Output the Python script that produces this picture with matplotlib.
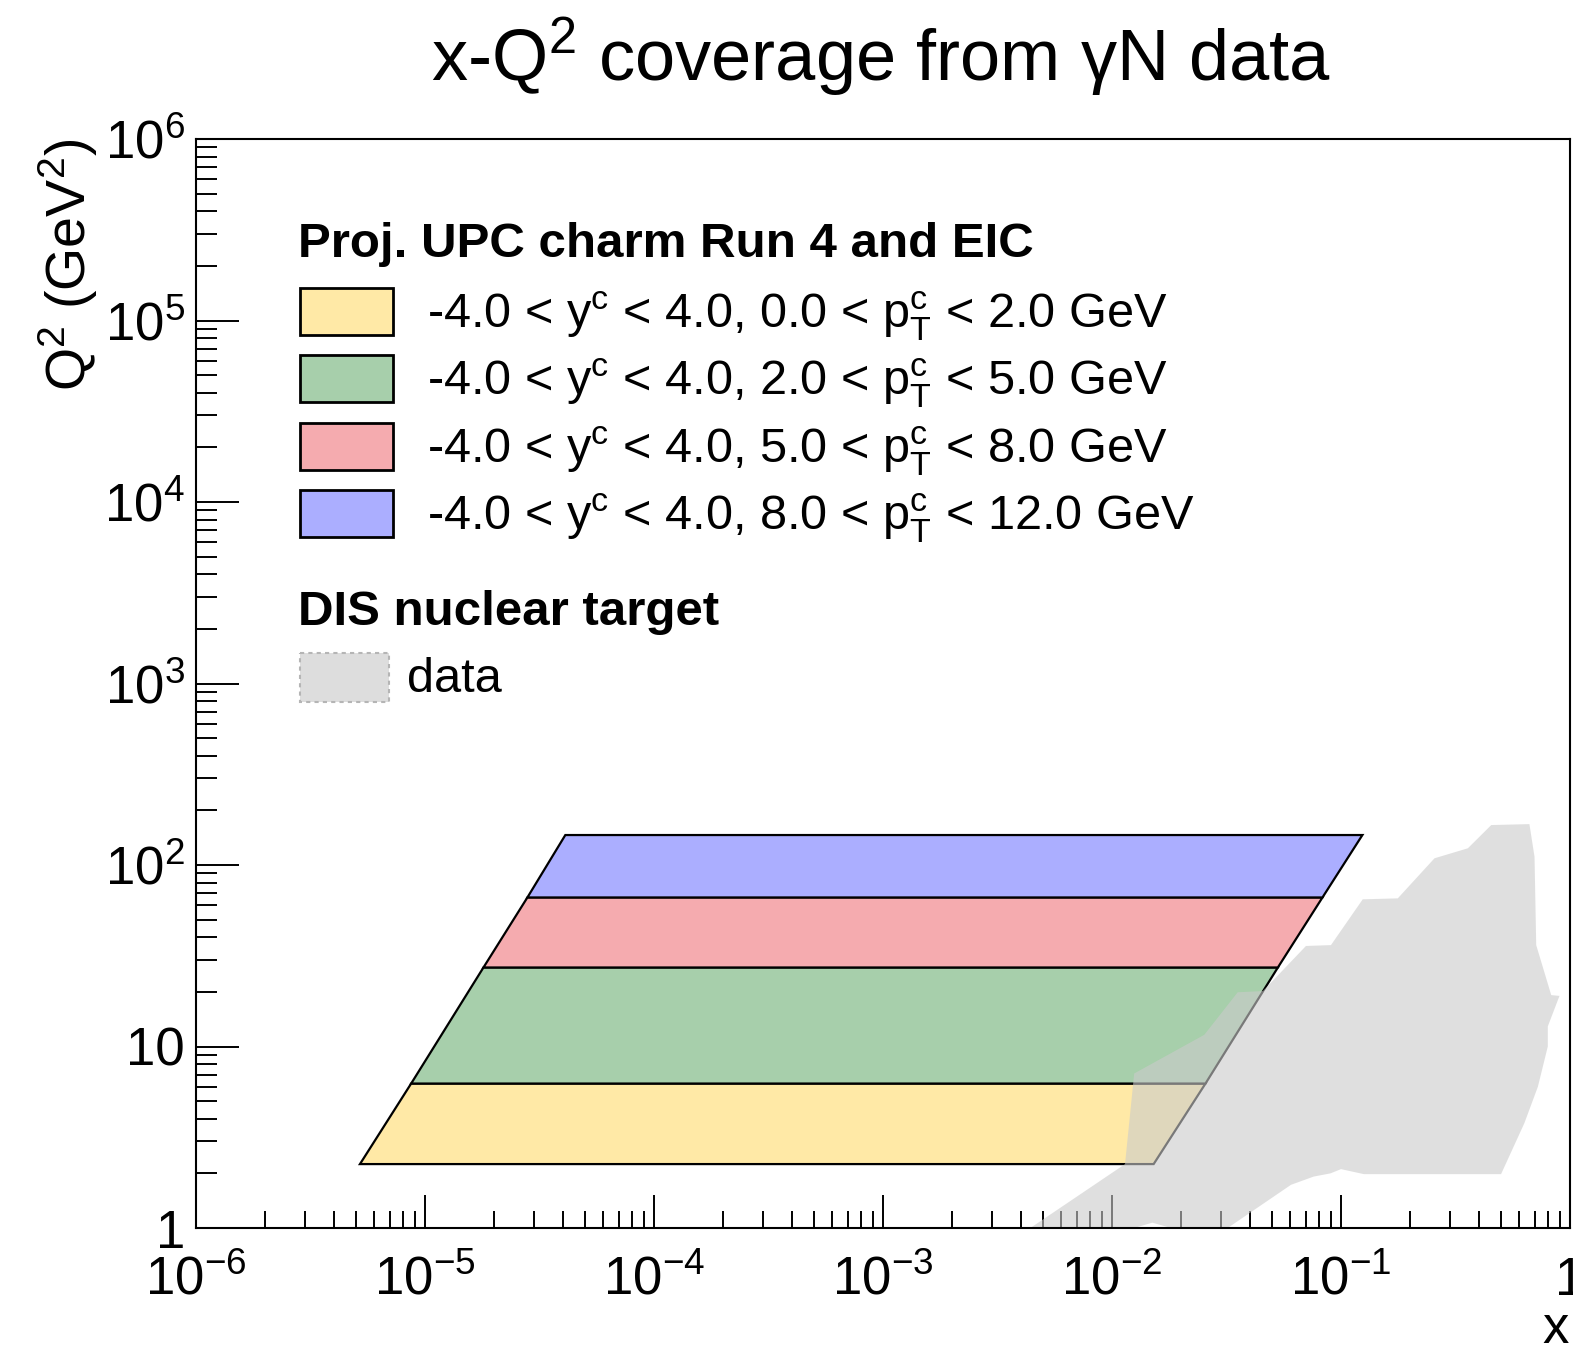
import matplotlib
matplotlib.use('Agg')
import matplotlib.pyplot as plt
from matplotlib.patches import Rectangle
from matplotlib.ticker import FixedLocator, FixedFormatter, LogLocator, NullFormatter
import numpy as np

plt.rcParams['font.family'] = ['Liberation Sans', 'DejaVu Sans']
plt.rcParams['mathtext.fontset'] = 'custom'
plt.rcParams['mathtext.rm'] = 'Liberation Sans'
plt.rcParams['mathtext.it'] = 'Liberation Sans'
plt.rcParams['mathtext.bf'] = 'Liberation Sans:bold'
plt.rcParams['mathtext.sf'] = 'Liberation Sans'

# ---------------- data ----------------
band_q2_edges = [2.25, 6.25, 27.25, 66.25, 146.25]
band_x_left = [5.2e-6, 8.7e-6, 1.8e-5, 2.8e-5, 4.1e-5]
band_x_right = [0.0152, 0.0256, 0.053, 0.083, 0.124]
band_labels = [
    r'-4.0 < y$^{c}$ < 4.0, 0.0 < p$_{T}^{c}$ < 2.0 GeV',
    r'-4.0 < y$^{c}$ < 4.0, 2.0 < p$_{T}^{c}$ < 5.0 GeV',
    r'-4.0 < y$^{c}$ < 4.0, 5.0 < p$_{T}^{c}$ < 8.0 GeV',
    r'-4.0 < y$^{c}$ < 4.0, 8.0 < p$_{T}^{c}$ < 12.0 GeV',
]
band_colors = ['#ffe9a6', '#a7cfab', '#f5abaf', '#abaeff']

dis_x = [0.0703, 0.0904, 0.1244, 0.177, 0.256, 0.358, 0.453, 0.665, 0.700,
         0.712, 0.828, 0.900, 0.885, 0.800, 0.800, 0.724, 0.632, 0.500,
         0.126, 0.100, 0.090, 0.076, 0.0605, 0.032, 0.0267, 0.0190, 0.0181,
         0.0150, 0.0125, 0.0118, 0.0037, 0.0044, 0.0114, 0.0125, 0.0253,
         0.0354, 0.0456]
dis_q2 = [35.8, 36.2, 64.7, 65.5, 108.9, 123.6, 166.0, 168.0, 111.0,
          36.2, 19.2, 19.0, 18.0, 12.9, 10.0, 6.0, 3.78, 1.98,
          1.98, 2.11, 2.00, 1.92, 1.73, 1.00, 0.86, 0.86, 1.00,
          1.07, 1.00, 0.86, 0.86, 1.00, 2.25, 7.1, 11.6,
          19.9, 20.2]

x_ticks = [1e-6, 1e-5, 1e-4, 1e-3, 1e-2, 1e-1, 1]
x_tick_labels = [r'$10^{-6}$', r'$10^{-5}$', r'$10^{-4}$', r'$10^{-3}$',
                 r'$10^{-2}$', r'$10^{-1}$', '1']
y_ticks = [1, 10, 1e2, 1e3, 1e4, 1e5, 1e6]
y_tick_labels = ['1', '10', r'$10^{2}$', r'$10^{3}$', r'$10^{4}$',
                 r'$10^{5}$', r'$10^{6}$']

title = r'x-Q$^{2}$ coverage from γN data'
legend_header1 = 'Proj. UPC charm Run 4 and EIC'
legend_header2 = 'DIS nuclear target'
dis_label = 'data'

# ---------------- figure ----------------
W, H = 1573, 1346
fig = plt.figure(figsize=(W / 100, H / 100), dpi=100)
fig.patch.set_facecolor('white')
ax = fig.add_axes([196 / W, 1 - 1228 / H, (1570 - 196) / W, (1228 - 139) / H])
ax.set_xscale('log')
ax.set_yscale('log')
ax.set_xlim(1e-6, 1)
ax.set_ylim(1, 1e6)

# bands
for i in range(len(band_colors)):
    xs = [band_x_left[i], band_x_right[i], band_x_right[i + 1], band_x_left[i + 1]]
    ys = [band_q2_edges[i], band_q2_edges[i], band_q2_edges[i + 1], band_q2_edges[i + 1]]
    ax.fill(xs, ys, facecolor=band_colors[i], edgecolor='black', linewidth=1.6,
            zorder=2, joinstyle='miter')

# DIS data region
ax.fill(dis_x, dis_q2, facecolor='#cbcbcb', edgecolor='none', alpha=0.6, zorder=3)

# axes styling
for s in ax.spines.values():
    s.set_linewidth(1.5)
    s.set_zorder(5)
ax.xaxis.set_major_locator(FixedLocator(x_ticks))
ax.xaxis.set_major_formatter(FixedFormatter(x_tick_labels))
ax.yaxis.set_major_locator(FixedLocator(y_ticks))
ax.yaxis.set_major_formatter(FixedFormatter(y_tick_labels))
ax.xaxis.set_minor_locator(LogLocator(base=10, subs=np.arange(2, 10), numticks=100))
ax.yaxis.set_minor_locator(LogLocator(base=10, subs=np.arange(2, 10), numticks=100))
ax.xaxis.set_minor_formatter(NullFormatter())
ax.yaxis.set_minor_formatter(NullFormatter())
ax.tick_params(axis='x', which='major', direction='in', length=24, width=1.4,
               top=False, labelsize=38, pad=20)
ax.tick_params(axis='x', which='minor', direction='in', length=12, width=1.4, top=False)
ax.tick_params(axis='y', which='major', direction='in', length=31, width=1.4,
               right=False, labelsize=38, pad=8)
ax.tick_params(axis='y', which='minor', direction='in', length=15, width=1.4, right=False)

# title and axis titles
fig.text(881 / W, 1 - 80 / H, title, ha='center', va='baseline', fontsize=52)
fig.text(68 / W, 1 - 139 / H, r'Q$^{2}$ (GeV$^{2}$)', rotation=90, ha='center',
         va='top', fontsize=40)
fig.text(1556 / W, 1 - 1343 / H, 'x', ha='center', va='baseline', fontsize=38)

# ---------------- legend (overlay, pixel layout) ----------------
ov = fig.add_axes([0, 0, 1, 1], zorder=10)
ov.set_xlim(0, W)
ov.set_ylim(H, 0)
ov.axis('off')
ov.patch.set_alpha(0)

ov.text(298, 257, legend_header1, fontsize=35.5, fontweight='bold', va='baseline', ha='left')
box_centers = [311, 378, 446, 513]
for c, col, lab in zip(box_centers, band_colors, band_labels):
    ov.add_patch(Rectangle((300, c - 23.5), 93, 47, facecolor=col, edgecolor='black',
                           linewidth=2.0))
    ov.text(427, c + 17, lab, fontsize=35, va='baseline', ha='left')

ov.text(298, 625, legend_header2, fontsize=35.5, fontweight='bold', va='baseline', ha='left')
ov.add_patch(Rectangle((300, 653), 89, 49, facecolor='#dddddd', edgecolor='#b5b5b5',
                       linewidth=1.5, linestyle=(0, (2, 2))))
ov.text(407, 692, dis_label, fontsize=35, va='baseline', ha='left')

fig.savefig('out.png', dpi=100)
